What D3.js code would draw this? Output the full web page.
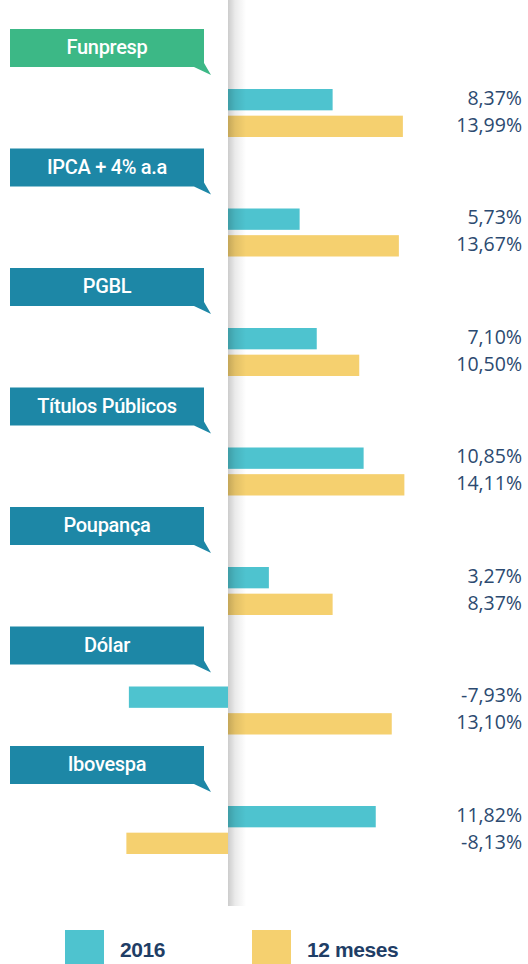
<!DOCTYPE html>
<html>
<head>
<meta charset="utf-8">
<script src="https://cdn.jsdelivr.net/npm/d3@7"></script>
<style>
  body { margin: 0; background: #fff; }
  svg { display: block; }
</style>
</head>
<body>
<div id="chart"></div>
<script>
// data
const categories = ["Funpresp", "IPCA + 4% a.a", "PGBL", "Títulos Públicos", "Poupança", "Dólar", "Ibovespa"];
const seriesNames = ["2016", "12 meses"];
const values2016 = [8.37, 5.73, 7.10, 10.85, 3.27, -7.93, 11.82];
const values12m = [13.99, 13.67, 10.50, 14.11, 8.37, 13.10, -8.13];

const width = 528, height = 964;
const colors = { "2016": "#4ec3cf", "12 meses": "#f5d06f" };
const bannerColor = d => d === "Funpresp" ? "#3cb886" : "#1d87a6";
const textColor = "#2c4a70";

const rows = categories.map((c, i) => ({
    category: c,
    values: [
        { series: "2016", value: values2016[i] },
        { series: "12 meses", value: values12m[i] }
    ]
}));

const svg = d3.select("#chart").append("svg")
    .attr("width", width)
    .attr("height", height);

// scales
const x = d3.scaleLinear()
    .domain([-10, 16])
    .range([103, 428]);

const y0 = d3.scaleBand()
    .domain(categories)
    .range([29, 29 + categories.length * 119.5]);

const y1 = d3.scaleBand()
    .domain(seriesNames)
    .range([60, 108])
    .paddingInner(0.2);

const br = d3.formatLocale({ decimal: ",", thousands: ".", grouping: [3], currency: ["R$", ""], minus: "-" });
const fmt = v => br.format(".2f")(v) + "%";

// groups
const group = svg.selectAll(".group")
    .data(rows)
    .enter().append("g")
    .attr("class", "group")
    .attr("transform", d => `translate(0, ${y0(d.category)})`);

// banner with little tail
const bx0 = 10, bx1 = 204, bh = 38;
group.append("path")
    .attr("d", `M${bx0},0 H${bx1} V${bh - 4} L${bx1 + 7},${bh + 8} L${bx1 - 10},${bh} H${bx0} Z`)
    .attr("fill", d => bannerColor(d.category));

group.append("text")
    .attr("x", (bx0 + bx1) / 2)
    .attr("y", bh / 2 + 1)
    .attr("text-anchor", "middle")
    .attr("dominant-baseline", "middle")
    .style("font-family", "Roboto, 'Liberation Sans', sans-serif")
    .style("font-weight", 500)
    .style("font-size", "20px")
    .style("letter-spacing", "-0.3px")
    .attr("fill", "#fff")
    .text(d => d.category);

// bars
group.selectAll(".bar")
    .data(d => d.values)
    .enter().append("rect")
    .attr("class", "bar")
    .attr("x", d => x(Math.min(0, d.value)))
    .attr("width", d => Math.abs(x(d.value) - x(0)))
    .attr("y", d => y1(d.series))
    .attr("height", y1.bandwidth())
    .attr("fill", d => colors[d.series]);

// value labels
group.selectAll(".val")
    .data(d => d.values)
    .enter().append("text")
    .attr("class", "val")
    .attr("x", 522)
    .attr("y", d => y1(d.series) + y1.bandwidth() / 2)
    .attr("text-anchor", "end")
    .attr("dominant-baseline", "middle")
    .style("font-family", "'Open Sans', sans-serif")
    .style("font-size", "19.5px")
    .attr("fill", textColor)
    .text(d => fmt(d.value));

// axis shadow
const defs = svg.append("defs");
const grad = defs.append("linearGradient")
    .attr("id", "shade")
    .attr("x1", "0%").attr("x2", "100%")
    .attr("y1", "0%").attr("y2", "0%");
grad.append("stop").attr("offset", "0%").attr("stop-color", "#000").attr("stop-opacity", 0.2);
grad.append("stop").attr("offset", "40%").attr("stop-color", "#000").attr("stop-opacity", 0.08);
grad.append("stop").attr("offset", "100%").attr("stop-color", "#000").attr("stop-opacity", 0);

svg.append("rect")
    .attr("x", x(0))
    .attr("y", 0)
    .attr("width", 18)
    .attr("height", 906)
    .attr("fill", "url(#shade)");

// legend
const legend = svg.append("g")
    .attr("class", "legend")
    .attr("transform", "translate(0, 930)");

const legendX = d3.scaleOrdinal().domain(seriesNames).range([65, 252]);

const li = legend.selectAll(".legend-item")
    .data(seriesNames)
    .enter().append("g")
    .attr("class", "legend-item")
    .attr("transform", d => `translate(${legendX(d)}, 0)`);

li.append("rect")
    .attr("width", 39)
    .attr("height", 40)
    .attr("fill", d => colors[d]);

li.append("text")
    .attr("x", 55)
    .attr("y", 27)
    .style("font-family", "'Liberation Sans', Arial, sans-serif")
    .style("font-weight", "bold")
    .style("font-size", "21px")
    .style("letter-spacing", "-0.4px")
    .attr("fill", "#1f3e66")
    .text(d => d);
</script>
</body>
</html>
